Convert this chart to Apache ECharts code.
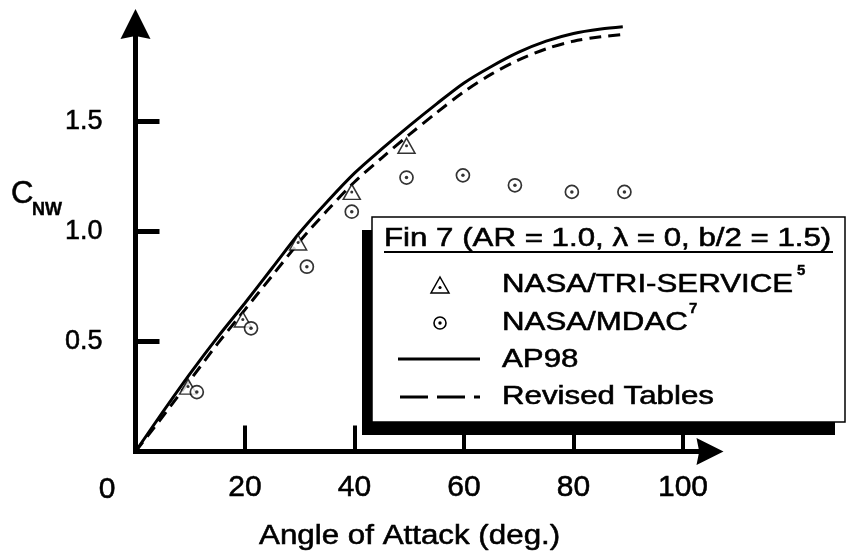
<!DOCTYPE html>
<html>
<head>
<meta charset="utf-8">
<script src="https://cdn.jsdelivr.net/npm/echarts@6/dist/echarts.min.js"></script>
<style>
  html, body { margin: 0; padding: 0; background: #fff; }
  #chart { width: 857px; height: 554px; }
</style>
</head>
<body>
<div id="chart"></div>
<script>
// Normal-force coefficient of fin 7 versus angle of attack
const curveAngles   = [0, 5, 10, 15, 20, 25, 30, 35, 40, 45, 50, 55, 60, 65, 70, 75, 80, 85, 89];
const ap98          = [0, 0.18, 0.355, 0.52, 0.675, 0.835, 0.995, 1.135, 1.265, 1.375, 1.48, 1.58, 1.675, 1.75, 1.815, 1.865, 1.90, 1.92, 1.93];
const revisedTables = [0, 0.16, 0.325, 0.49, 0.645, 0.80, 0.955, 1.095, 1.225, 1.335, 1.44, 1.54, 1.635, 1.715, 1.78, 1.83, 1.865, 1.885, 1.895];

const triServiceAngles = [9.6, 19.6, 29.7, 39.5, 49.5];
const triServiceCn     = [0.295, 0.60, 0.95, 1.18, 1.39];

const mdacAngles = [11.2, 21.1, 31.3, 39.5, 49.5, 59.8, 69.3, 79.7, 89.3];
const mdacCn     = [0.27, 0.56, 0.84, 1.09, 1.245, 1.255, 1.21, 1.18, 1.18];

const xTickValues = [20, 40, 60, 80, 100];
const yTickValues = [0.5, 1.0, 1.5];

const legendTitle = 'Fin 7 (AR = 1.0, \u03bb = 0, b/2 = 1.5)';
const legendNames = ['NASA/TRI-SERVICE', 'NASA/MDAC', 'AP98', 'Revised Tables'];
const legendRefs  = ['5', '7'];
const xTitle = 'Angle of Attack (deg.)';

const pair = (xs, ys) => xs.map((x, i) => [x, ys[i]]);

const FONT = '"Liberation Sans", Arial, Helvetica, sans-serif';
const INK = '#000';
const HEAVY = 0.55; // outline width that thickens the glyph strokes
const ARROW = 'path://M0,0 L1,2 L0,1.8 L-1,2 Z';

const chart = echarts.init(document.getElementById('chart'), null, { renderer: 'canvas' });

// legend block drawn as a framed box with a drop shadow
const L = { x: 372, y: 217, w: 473, h: 205, dx: -10, dy: 13 };
const rowY = [285, 323, 360, 397];
const textX = 502;
const wide = 1.25;

function textEl(str, x, y, size, opts) {
  opts = opts || {};
  return {
    type: 'text', x: x, y: y, scaleX: opts.scaleX || 1, z: opts.z || 60,
    style: {
      text: str, fill: INK, stroke: INK, lineWidth: opts.lineWidth != null ? opts.lineWidth : HEAVY,
      fontFamily: FONT, fontSize: size, fontWeight: opts.weight || 'normal',
      align: opts.align || 'left', verticalAlign: 'middle'
    }
  };
}

const graphics = [
  // shadow + box
  { type: 'rect', z: 50, shape: { x: L.x + L.dx, y: L.y + L.dy, width: L.w, height: L.h }, style: { fill: INK } },
  { type: 'rect', z: 55, shape: { x: L.x, y: L.y, width: L.w, height: L.h }, style: { fill: '#fff', stroke: INK, lineWidth: 1.5 } },
  textEl(legendTitle, 384, 239, 25, { scaleX: wide }),
  { type: 'line', z: 60, shape: { x1: 384, y1: 252, x2: 833, y2: 252 }, style: { stroke: INK, lineWidth: 1.8 } },

  // row 1: triangle
  { type: 'polygon', z: 60, shape: { points: [[440, 277], [449, 293], [431, 293]] }, style: { fill: '#fff', stroke: INK, lineWidth: 1.5 } },
  { type: 'circle', z: 61, shape: { cx: 440, cy: 287.5, r: 1.6 }, style: { fill: INK } },
  textEl(legendNames[0], textX, rowY[0], 25, { scaleX: wide }),
  textEl(legendRefs[0], 797, rowY[0] - 14, 15, { weight: 'bold', lineWidth: 0.4 }),

  // row 2: circle
  { type: 'circle', z: 60, shape: { cx: 440, cy: rowY[1], r: 6 }, style: { fill: '#fff', stroke: INK, lineWidth: 1.6 } },
  { type: 'circle', z: 61, shape: { cx: 440, cy: rowY[1], r: 1.7 }, style: { fill: INK } },
  textEl(legendNames[1], textX, rowY[1], 25, { scaleX: wide }),
  textEl(legendRefs[1], 689, rowY[1] - 14, 15, { weight: 'bold', lineWidth: 0.4 }),

  // row 3: solid line
  { type: 'line', z: 60, shape: { x1: 398, y1: rowY[2] - 1, x2: 480, y2: rowY[2] - 1 }, style: { stroke: INK, lineWidth: 3.2 } },
  textEl(legendNames[2], textX, rowY[2], 25, { scaleX: wide }),

  // row 4: dashed line
  { type: 'line', z: 60, shape: { x1: 400, y1: rowY[3], x2: 480, y2: rowY[3] }, style: { stroke: INK, lineWidth: 3.2, lineDash: [28, 9] } },
  textEl(legendNames[3], textX, rowY[3], 25, { scaleX: wide }),

  // origin label and axis titles
  textEl('0', 107, 490, 30, { align: 'center', z: 20 }),
  textEl(xTitle, 259, 537, 27, { scaleX: 1.16, z: 20 }),
  textEl('C', 11, 194, 31, { z: 20 }),
  textEl('NW', 32, 210, 18, { weight: 'bold', z: 20, lineWidth: 0.4 })
];

const labelStyle = {
  color: INK, fontFamily: FONT, textBorderColor: INK, textBorderWidth: HEAVY
};

const option = {
  animation: false,
  backgroundColor: '#fff',
  grid: { left: 135.5, right: 147, top: 24, bottom: 102.5 },
  xAxis: {
    type: 'value', min: 0, max: 104.93, interval: 20,
    splitLine: { show: false },
    axisLine: { show: true, onZero: false, symbol: ['none', ARROW], symbolSize: [27, 34],
      lineStyle: { color: INK, width: 5, cap: 'square' } },
    axisTick: { show: true, inside: true, length: 26, customValues: xTickValues,
      lineStyle: { color: INK, width: 4 } },
    axisLabel: Object.assign({ customValues: xTickValues, margin: 21, fontSize: 30,
      formatter: v => (v % 20 === 0 && v > 0 ? String(v) : '') }, labelStyle)
  },
  yAxis: {
    type: 'value', min: 0, max: 1.943, interval: 0.5,
    splitLine: { show: false },
    axisLine: { show: true, onZero: false, symbol: ['none', ARROW], symbolSize: [30, 34],
      lineStyle: { color: INK, width: 5, cap: 'square' } },
    axisTick: { show: true, inside: true, length: 24, customValues: yTickValues,
      lineStyle: { color: INK, width: 5 } },
    axisLabel: Object.assign({ customValues: yTickValues, margin: 33, fontSize: 27,
      formatter: v => (v > 0 && v < 1.9 ? v.toFixed(1) : '') }, labelStyle)
  },
  series: [
    { name: 'AP98', type: 'line', data: pair(curveAngles, ap98), smooth: 0.3, showSymbol: false, z: 2,
      lineStyle: { color: INK, width: 3 } },
    { name: 'Revised Tables', type: 'line', data: pair(curveAngles, revisedTables), smooth: 0.3, showSymbol: false, z: 2,
      lineStyle: { color: INK, width: 3, type: [12, 7] } },
    { name: 'NASA/TRI-SERVICE', type: 'scatter', data: pair(triServiceAngles, triServiceCn), z: 3,
      symbol: 'triangle', symbolSize: [17, 15],
      itemStyle: { color: '#fff', borderColor: INK, borderWidth: 1.5 } },
    { name: 'NASA/TRI-SERVICE dot', type: 'scatter', data: pair(triServiceAngles, triServiceCn), z: 4,
      symbol: 'circle', symbolSize: 3, itemStyle: { color: INK } },
    { name: 'NASA/MDAC', type: 'scatter', data: pair(mdacAngles, mdacCn), z: 3,
      symbol: 'circle', symbolSize: 13,
      itemStyle: { color: '#fff', borderColor: INK, borderWidth: 1.7 } },
    { name: 'NASA/MDAC dot', type: 'scatter', data: pair(mdacAngles, mdacCn), z: 4,
      symbol: 'circle', symbolSize: 3.5, itemStyle: { color: INK } }
  ],
  graphic: graphics
};

chart.setOption(option);
</script>
</body>
</html>
